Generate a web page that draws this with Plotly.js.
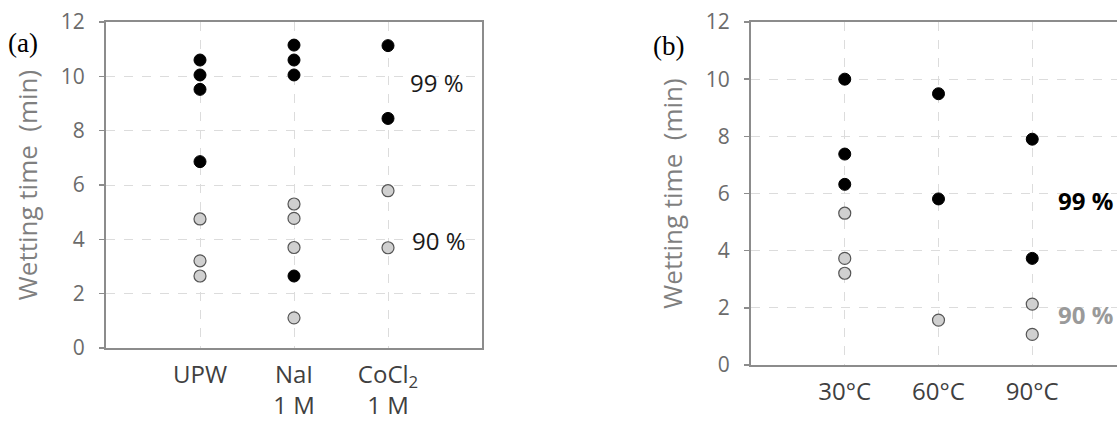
<!DOCTYPE html>
<html>
<head>
<meta charset="utf-8">
<script src="https://cdn.plot.ly/plotly-3.0.1.min.js"></script>
<style>
html, body { margin: 0; padding: 0; overflow: hidden; background: #fff; }
#chart { width: 1130px; height: 421px; }
</style>
</head>
<body>
<div id="chart"></div>
<script>
// Panel (a): solutions
const catsA = ['UPW', 'NaI<br>1 M', 'CoCl<sub>2</sub><br>1 M'];
const a99_UPW = [10.6, 10.05, 9.52, 6.86];
const a99_NaI = [11.15, 10.6, 10.05, 2.65];
const a99_CoCl2 = [11.13, 8.45];
const a90_UPW = [4.75, 3.21, 2.65];
const a90_NaI = [5.3, 4.77, 3.7, 1.11];
const a90_CoCl2 = [5.79, 3.69];

// Panel (b): temperatures
const catsB = ['30°C', '60°C', '90°C'];
const b99_30 = [10.0, 7.38, 6.32];
const b99_60 = [9.49, 5.81];
const b99_90 = [7.9, 3.73];
const b90_30 = [5.31, 3.73, 3.21];
const b90_60 = [1.57];
const b90_90 = [2.13, 1.07];

const yTicks = [0, 2, 4, 6, 8, 10, 12];

function flatten(cats, groups) {
  const x = [], y = [];
  groups.forEach((vals, i) => vals.forEach(v => { x.push(cats[i]); y.push(v); }));
  return {x, y};
}

const W = 1130, H = 421;
const FONT = '"Open Sans", "Noto Sans", sans-serif';
const SERIF = '"Liberation Serif", "Times New Roman", serif';

const blackMarker = {size: 12, color: '#000000', line: {color: '#000000', width: 1}};
const grayMarker = {size: 12, color: '#d0d0d0', line: {color: '#555555', width: 1.2}};

const A99 = flatten(catsA, [a99_UPW, a99_NaI, a99_CoCl2]);
const A90 = flatten(catsA, [a90_UPW, a90_NaI, a90_CoCl2]);
const B99 = flatten(catsB, [b99_30, b99_60, b99_90]);
const B90 = flatten(catsB, [b90_30, b90_60, b90_90]);

const traces = [
  {type: 'scatter', mode: 'markers', x: A90.x, y: A90.y, xaxis: 'x', yaxis: 'y', marker: grayMarker, name: '90 %'},
  {type: 'scatter', mode: 'markers', x: A99.x, y: A99.y, xaxis: 'x', yaxis: 'y', marker: blackMarker, name: '99 %'},
  {type: 'scatter', mode: 'markers', x: B90.x, y: B90.y, xaxis: 'x2', yaxis: 'y2', marker: grayMarker, name: '90 %'},
  {type: 'scatter', mode: 'markers', x: B99.x, y: B99.y, xaxis: 'x2', yaxis: 'y2', marker: blackMarker, name: '99 %'}
];

const lineColor = '#8c8c8c';
const gridColor = '#dcdcdc';

function xAxis(domain, cats, anchor) {
  return {
    domain: domain, anchor: anchor, type: 'category',
    categoryorder: 'array', categoryarray: cats,
    range: [-1, 3], showgrid: true, gridcolor: gridColor, griddash: 'dash', gridwidth: 1,
    showline: true, linecolor: lineColor, linewidth: 2, mirror: true,
    ticks: '', tickfont: {family: FONT, size: 24, color: '#404040'},
    ticklabelstandoff: 4, zeroline: false, fixedrange: true
  };
}
function yAxis(domain, anchor) {
  return {
    domain: domain, anchor: anchor, range: [0, 12], tickvals: yTicks,
    showgrid: true, gridcolor: gridColor, griddash: 'dash', gridwidth: 1,
    showline: true, linecolor: lineColor, linewidth: 2, mirror: true,
    ticks: 'outside', ticklen: 5, tickcolor: lineColor, tickwidth: 1.5,
    tickfont: {family: FONT, size: 21, color: '#6b6b6b'},
    ticklabelstandoff: 10, zeroline: false, fixedrange: true,
    title: {text: 'Wetting time\u00a0\u00a0(min)', font: {family: FONT, size: 26, color: '#7f7f7f'}, standoff: 16}
  };
}

const layout = {
  width: W, height: H,
  margin: {l: 0, r: 0, t: 0, b: 0},
  paper_bgcolor: '#ffffff', plot_bgcolor: '#ffffff',
  showlegend: false,
  xaxis: xAxis([106 / W, 482 / W], catsA, 'y'),
  yaxis: yAxis([(H - 348) / H, (H - 22) / H], 'x'),
  xaxis2: xAxis([751 / W, 1126 / W], catsB, 'y2'),
  yaxis2: yAxis([(H - 365) / H, (H - 22) / H], 'x2'),
  annotations: [
    {xref: 'x domain', yref: 'y domain', x: -0.2207, y: 0.9356, text: '(a)', showarrow: false,
     xanchor: 'center', yanchor: 'middle', font: {family: SERIF, size: 27, color: '#000'}},
    {xref: 'x2 domain', yref: 'y2 domain', x: -0.2213, y: 0.930, text: '(b)', showarrow: false,
     xanchor: 'center', yanchor: 'middle', font: {family: SERIF, size: 27, color: '#000'}},
    {xref: 'x', yref: 'y', x: 2.52, y: 9.79, text: '99 %', showarrow: false,
     font: {family: FONT, size: 24, color: '#1a1a1a'}},
    {xref: 'x', yref: 'y', x: 2.54, y: 3.97, text: '90 %', showarrow: false,
     font: {family: FONT, size: 24, color: '#1a1a1a'}},
    {xref: 'x2', yref: 'y2', x: 2.57, y: 5.77, text: '<b>99 %</b>', showarrow: false,
     font: {family: FONT, size: 24, color: '#000'}},
    {xref: 'x2', yref: 'y2', x: 2.57, y: 1.75, text: '<b>90 %</b>', showarrow: false,
     font: {family: FONT, size: 24, color: '#9a9a9a'}}
  ]
};

Plotly.newPlot('chart', traces, layout, {displayModeBar: false, staticPlot: true});
</script>
</body>
</html>
